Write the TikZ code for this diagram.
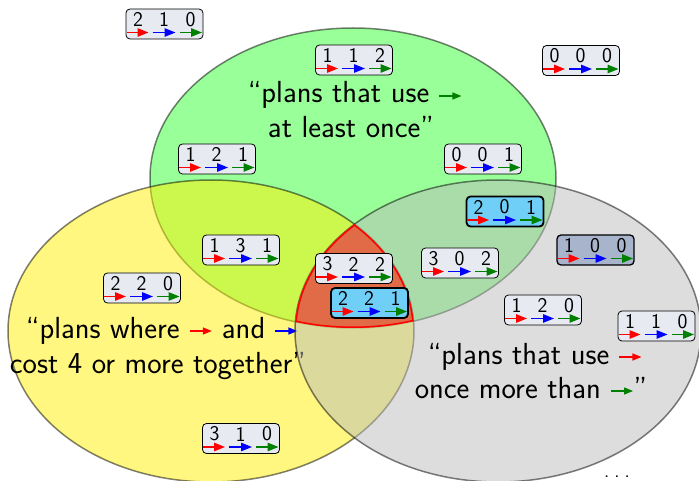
\documentclass[tikz,border=0pt]{standalone}
\usepackage{fontspec}
\usetikzlibrary{arrows.meta}
\definecolor{gfill}{RGB}{51,255,51}
\definecolor{yfill}{RGB}{255,239,0}
\definecolor{kfill}{RGB}{187,187,187}
\definecolor{tripfill}{RGB}{225,107,70}
\definecolor{boxfill}{RGB}{232,234,242}
\definecolor{cyanfill}{RGB}{111,207,246}
\definecolor{slatefill}{RGB}{168,180,204}
\definecolor{arrred}{RGB}{255,0,0}
\definecolor{arrblue}{RGB}{0,0,255}
\definecolor{arrgreen}{RGB}{0,128,0}
\tikzset{
  planbox/.style={draw=black, line width=0.8pt, rounded corners=4pt, fill=boxfill,
    minimum width=77pt, minimum height=30pt, inner sep=0pt},
  hlcyan/.style={fill=cyanfill, line width=1.8pt},
  hlslate/.style={fill=slatefill, line width=1.3pt},
  digit/.style={font=\sffamily\fontsize{21}{21}\selectfont, inner sep=0pt},
  planarrow/.style={line width=1.4pt, -{Triangle[length=11pt,width=8.5pt]}},
  lbl/.style={font=\sffamily\fontsize{30.5}{35}\selectfont, inner sep=0pt, anchor=base},
  venn/.style={draw=black, opacity=0.5, line width=1.5pt},
}
\newcommand\inarr[1]{\tikz[baseline=-7pt]\draw[line width=1.2pt,#1,-{Triangle[length=9pt,width=7pt]}] (0pt,0pt) -- (22pt,0pt);}
\newcommand\plan[6][]{%
  \node[planbox,#1] (#2) at (#3) {};
  \node[digit] (#2-a) at ([xshift=-26.5pt,yshift=4.5pt]#2.center) {#4};
  \node[digit] (#2-b) at ([xshift=-0.5pt,yshift=4.5pt]#2.center) {#5};
  \node[digit] (#2-c) at ([xshift=26pt,yshift=4.5pt]#2.center) {#6};
  \draw[planarrow,arrred] ([xshift=-38pt,yshift=-8.5pt]#2.center) -- ([xshift=-16pt,yshift=-8.5pt]#2.center);
  \draw[planarrow,arrblue] ([xshift=-12pt,yshift=-8.5pt]#2.center) -- ([xshift=11pt,yshift=-8.5pt]#2.center);
  \draw[planarrow,arrgreen] ([xshift=15pt,yshift=-8.5pt]#2.center) -- ([xshift=37.5pt,yshift=-8.5pt]#2.center);
}
\begin{document}
\begin{tikzpicture}[x=1pt,y=-1pt]
\useasboundingbox (0,0) rectangle (699,481);
% ellipses
\draw[venn, fill=gfill] (353,178) ellipse [x radius=203pt, y radius=150pt];
\node[lbl] (g1) at (355,103) {``plans that use \inarr{arrgreen}};
\node[lbl] (g2) at (351,138) {at least once''};
\draw[venn, fill=yfill] (211,331) ellipse [x radius=203pt, y radius=151pt];
\node[lbl] (y1) at (162,338) {``plans where \inarr{arrred} and \inarr{arrblue}};
\node[lbl] (y2) at (158,373) {cost 4 or more together''};
\draw[venn, fill=kfill] (498,331) ellipse [x radius=203pt, y radius=151pt];
\node[lbl] (k1) at (535,364) {``plans that use \inarr{arrred}};
\node[lbl] (k2) at (531,398) {once more than \inarr{arrgreen}''};
% triple intersection
\begin{scope}
  \clip (353,178) ellipse [x radius=203pt, y radius=150pt];
  \clip (211,331) ellipse [x radius=203pt, y radius=151pt];
  \clip (498,331) ellipse [x radius=203pt, y radius=151pt];
  \fill[tripfill] (200,150) rectangle (500,400);
  \draw[arrred, line width=3pt] (353,178) ellipse [x radius=203pt, y radius=150pt];
  \draw[arrred, line width=3pt] (211,331) ellipse [x radius=203pt, y radius=151pt];
  \draw[arrred, line width=3pt] (498,331) ellipse [x radius=203pt, y radius=151pt];
\end{scope}
% plans
\plan{p210}{164.5,24}{2}{1}{0}
\plan{p112}{354,60}{1}{1}{2}
\plan{p000}{581,60.5}{0}{0}{0}
\plan{p121}{217,159}{1}{2}{1}
\plan{p001}{483,159}{0}{0}{1}
\plan[hlcyan]{p201}{505,211.5}{2}{0}{1}
\plan{p131}{241,250}{1}{3}{1}
\plan{p322}{354,268.5}{3}{2}{2}
\plan{p302}{460,263}{3}{0}{2}
\plan[hlslate]{p100}{595.5,250}{1}{0}{0}
\plan{p220}{142,288}{2}{2}{0}
\plan[hlcyan]{p221}{369.5,303}{2}{2}{1}
\plan{p120}{543,310}{1}{2}{0}
\plan{p110}{656.5,326}{1}{1}{0}
\plan{p310}{241,438.5}{3}{1}{0}
\node[font=\sffamily\fontsize{20}{20}\selectfont, anchor=base, inner sep=0pt] (dots) at (617,477) {.\hspace{5pt}.\hspace{5pt}.};
\end{tikzpicture}
\end{document}
